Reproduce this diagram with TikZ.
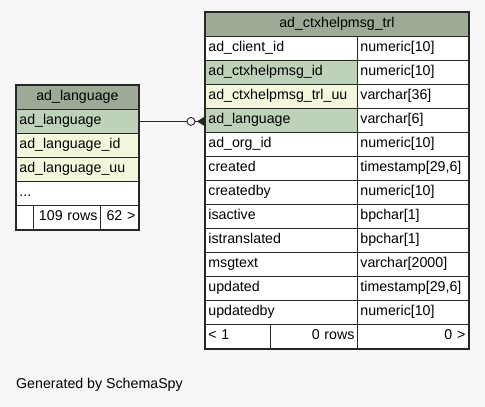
\documentclass[tikz,border=0pt]{standalone}
\usepackage{fontspec}
\setmainfont{Liberation Sans}
\usetikzlibrary{positioning}

\definecolor{bgcol}{HTML}{F7F7F7}
\definecolor{hdrcol}{HTML}{9DAB96}
\definecolor{keycol}{HTML}{BED1B9}
\definecolor{uucol}{HTML}{F4F7DC}
\definecolor{linecol}{HTML}{262626}

\tikzset{
    cell/.style={draw=linecol, line width=0.8pt, anchor=north west, minimum height=24pt,
        inner xsep=3pt, inner ysep=0pt, text height=10pt, text depth=3pt,
        font=\fontsize{14.2}{16}\selectfont},
    hdrcell/.style={cell, fill=hdrcol, minimum width=#1, align=center},
    namecell/.style={cell, text width=146pt, align=left},
    typecell/.style={cell, text width=105pt, align=left},
    lcell/.style={cell, text width=116pt, align=left},
    box/.style={draw=linecol, line width=1.6pt},
}

\begin{document}
\begin{tikzpicture}[x=1pt, y=-1pt]
    \useasboundingbox[fill=bgcol] (0,0) rectangle (485,407);

    \def \rx {205};
    \def \ry {12};
    \def \lx {16};
    \def \ly {85};
    \def \more {...};

    % right table
    \node[hdrcell=263pt] (th) at (\rx, \ry) {ad\_ctxhelpmsg\_trl};
    \foreach \n/\t/\c [count=\i] in {
        ad\_client\_id/numeric[10]/white,
        ad\_ctxhelpmsg\_id/numeric[10]/keycol,
        ad\_ctxhelpmsg\_trl\_uu/varchar[36]/uucol,
        ad\_language/varchar[6]/keycol,
        ad\_org\_id/numeric[10]/white,
        created/{timestamp[29,6]}/white,
        createdby/numeric[10]/white,
        isactive/bpchar[1]/white,
        istranslated/bpchar[1]/white,
        msgtext/varchar[2000]/white,
        updated/{timestamp[29,6]}/white,
        updatedby/numeric[10]/white}
    {
        \node[namecell, fill=\c] (t\i) at (\rx, \ry+24*\i) {\n};
        \node[typecell, fill=white] (tt\i) at (\rx+152, \ry+24*\i) {\t};
    }
    \node[cell, fill=white, text width=59pt, align=left] (tf1) at (\rx, 324) {< 1};
    \node[cell, fill=white, text width=81pt, align=right] (tf2) at (\rx+65, 324) {0 rows};
    \node[typecell, fill=white, align=right] (tf3) at (\rx+152, 324) {0 >};
    \draw[box] (th.north west) rectangle (tf3.south east);

    % left table
    \node[hdrcell=122pt] (lh) at (\lx, \ly) {ad\_language};
    \foreach \n/\c [count=\i] in {ad\_language/keycol, ad\_language\_id/uucol,
        ad\_language\_uu/uucol, \more/white}
        \node[lcell, fill=\c] (l\i) at (\lx, \ly+24*\i) {\n};
    \node[cell, fill=white, minimum width=17pt] (lf1) at (\lx, 205) {};
    \node[cell, fill=white, text width=61pt, align=right] (lf2) at (\lx+17, 205) {109 rows};
    \node[cell, fill=white, text width=32pt, align=right] (lf3) at (\lx+84, 205) {62 >};
    \draw[box] (lh.north west) rectangle (lf3.south east);

    % relation
    \coordinate (end) at (t4.west |- l1.east);
    \coordinate (ring) at ([xshift=-14pt]end);
    \coordinate (foot) at ([xshift=-8pt]end);
    \draw[linecol, line width=0.9pt] (l1.east) -- ([xshift=-4pt]ring);
    \draw[linecol, line width=0.9pt] (ring) circle (4pt);
    \draw[linecol, line width=0.9pt] ([xshift=4pt]ring) -- (end);
    \fill[linecol] (foot) -- ([yshift=-5pt]end) -- ([yshift=5pt]end) -- cycle;

    \node[anchor=west, inner sep=0pt, font=\fontsize{14.2}{16}\selectfont] (gen) at (16, 385) {Generated by SchemaSpy};
\end{tikzpicture}
\end{document}
